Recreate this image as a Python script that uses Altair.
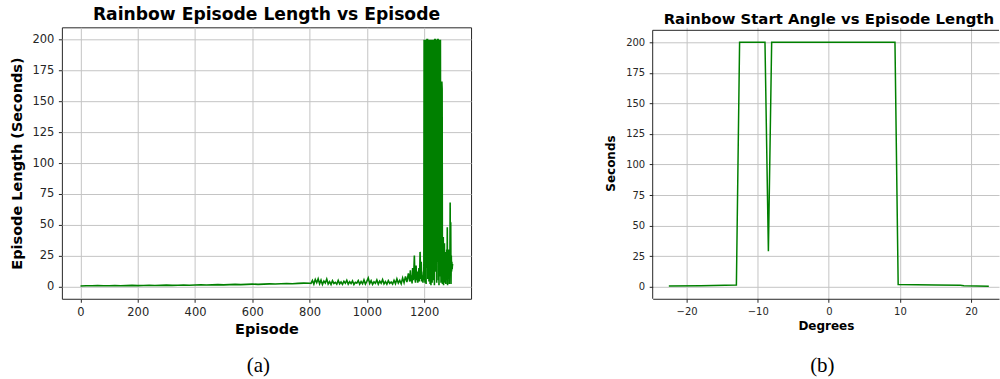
import altair as alt
import pandas as pd

# ---- Panel (a): episode length per training episode ----
# early training, every 20 episodes (0..800)
early_episodes = list(range(0, 801, 20))
early_lengths = [0.4, 0.6, 0.5, 0.7, 0.5, 0.6, 0.8, 0.6, 0.7, 0.9,
                 0.7, 0.8, 1.0, 0.8, 0.9, 1.1, 0.9, 1.0, 1.2, 1.0,
                 1.2, 1.4, 1.2, 1.3, 1.5, 1.3, 1.5, 1.7, 1.5, 1.7,
                 1.9, 1.7, 1.9, 2.1, 2.0, 2.2, 2.4, 2.2, 2.5, 2.7, 2.6]

# middle training, every 5 episodes (805..1150)
mid_episodes = list(range(805, 1151, 5))
mid_lengths = [2.5, 4.8, 1.9, 5.6, 3.0, 6.2, 2.2, 5.1, 1.6, 4.4,
               2.8, 6.0, 2.0, 3.9, 1.5, 4.6, 2.4, 3.3, 1.8, 4.9,
               2.1, 3.6, 1.7, 4.2, 2.6, 5.0, 1.9, 3.8, 2.3, 4.5,
               1.6, 3.4, 2.7, 4.8, 1.8, 3.9, 2.2, 5.3, 2.0, 4.1,
               6.8, 2.4, 4.6, 1.7, 3.8, 2.5, 5.2, 1.9, 4.3, 2.6,
               5.5, 2.1, 4.0, 1.8, 4.7, 2.4, 3.6, 1.9, 5.0, 2.3,
               6.1, 2.7, 4.9, 2.2, 6.8, 3.0, 8.2, 3.5, 10.5, 4.0]

# late training, every 2 episodes (1152..1198)
late_episodes = list(range(1152, 1199, 2))
late_lengths = [13, 4, 9, 2.5, 15, 5, 11, 25, 6, 3,
                17, 5, 12, 3, 8, 15, 4, 28, 6, 20,
                4, 9, 3, 12]

# final stretch, every episode (1199..1300)
final_episodes = list(range(1199, 1301))
final_lengths = [5, 200, 8, 200, 3, 200, 30, 200, 2, 200,
                 15, 200, 200, 200, 6, 200, 40, 200, 4, 200,
                 20, 200, 2, 200, 10, 1, 200, 25, 200, 3,
                 200, 45, 120, 5, 200, 8, 200, 1, 200, 200,
                 200, 12, 200, 35, 200, 3, 200, 20, 200, 200,
                 200, 5, 200, 1, 200, 30, 200, 8, 200, 40,
                 3, 20, 45, 166, 160, 2, 38, 10, 40, 1,
                 25, 12, 35, 3, 28, 15, 27, 2, 28, 10,
                 30, 5, 48, 1, 25, 8, 30, 12, 28, 2,
                 25, 10, 68, 20, 52, 2, 25, 12, 20, 14,
                 18, 17]

episodes = early_episodes + mid_episodes + late_episodes + final_episodes
lengths = early_lengths + mid_lengths + late_lengths + final_lengths

# ---- Panel (b): episode length by starting pole angle ----
degrees = [-22.5, -18.0, -13.0, -12.55, -8.98, -8.5, -8.04, 0.0, 9.3, 9.75, 15.0, 18.5, 19.0, 22.5]
seconds = [0.6, 0.9, 1.4, 200, 200, 29, 200, 200, 200, 1.9, 1.5, 1.2, 0.8, 0.5]

episode_ticks = [0, 200, 400, 600, 800, 1000, 1200]
length_ticks = [0, 25, 50, 75, 100, 125, 150, 175, 200]
degree_ticks = [-20, -10, 0, 10, 20]

green = "#008000"
grid = "#c4c4c4"
frame = "#262626"
font = "DejaVu Sans"

ep_df = pd.DataFrame({"Episode": episodes, "Length": lengths})
ang_df = pd.DataFrame({"Degrees": degrees, "Seconds": seconds})

W_A, H = 410, 272
W_B = 347

# ---------- panel (a) ----------
line_a = alt.Chart(ep_df).mark_line(color=green, strokeWidth=1.6, clip=True).encode(
    x=alt.X("Episode:Q",
            scale=alt.Scale(domain=[-65, 1364], nice=False, zero=False),
            axis=alt.Axis(values=episode_ticks, title="Episode", format="d",
                          labelFontSize=11.5, titleFontSize=14.5, titlePadding=4,
                          domain=False)),
    y=alt.Y("Length:Q",
            scale=alt.Scale(domain=[-10, 210], nice=False, zero=False),
            axis=alt.Axis(values=length_ticks, title="Episode Length (Seconds)",
                          labelFontSize=11.5, titleFontSize=14.5, titlePadding=8,
                          domain=False)),
)
cap_a = alt.Chart(pd.DataFrame({"t": ["(a)"]})).mark_text(
    font="Liberation Serif", fontSize=21, color="black", baseline="middle"
).encode(text="t:N", x=alt.value(197), y=alt.value(339))

panel_a = alt.layer(line_a, cap_a).properties(
    width=W_A, height=H,
    title=alt.TitleParams("Rainbow Episode Length vs Episode", fontSize=17.2,
                          font=font, fontWeight="bold", offset=4),
    view=alt.ViewBackground(stroke=frame, strokeWidth=1),
)

# ---------- panel (b) ----------
line_b = alt.Chart(ang_df).mark_line(color=green, strokeWidth=1.5, clip=True).encode(
    x=alt.X("Degrees:Q",
            scale=alt.Scale(domain=[-24.77, 23.93], nice=False, zero=False),
            axis=alt.Axis(values=degree_ticks, title="Degrees",
                          labelFontSize=10, titleFontSize=12, titlePadding=4)),
    y=alt.Y("Seconds:Q",
            scale=alt.Scale(domain=[-9.8, 212.2], nice=False, zero=False),
            axis=alt.Axis(values=length_ticks, title="Seconds",
                          labelFontSize=10, titleFontSize=12, titlePadding=8,
                          domain=False)),
)
one = pd.DataFrame({"t": ["(b)"]})
border_top = alt.Chart(one).mark_rule(color=frame, strokeWidth=1).encode(
    x=alt.value(0), x2=alt.value(W_B), y=alt.value(3))
border_left = alt.Chart(one).mark_rule(color=frame, strokeWidth=1).encode(
    x=alt.value(0), y=alt.value(3), y2=alt.value(H))
cap_b = alt.Chart(one).mark_text(
    font="Liberation Serif", fontSize=21, color="black", baseline="middle"
).encode(text="t:N", x=alt.value(170), y=alt.value(339))

panel_b = alt.layer(line_b, border_top, border_left, cap_b).properties(
    width=W_B, height=H,
    title=alt.TitleParams("Rainbow Start Angle vs Episode Length", fontSize=14.9,
                          font=font, fontWeight="bold", offset=0, dx=3),
    view=alt.ViewBackground(stroke="transparent"),
)

chart = alt.hconcat(panel_a, panel_b, spacing=182, bounds="flush").properties(
    padding={"left": 8, "top": 5, "right": 0, "bottom": 0},
    background="white",
).configure_axis(
    labelFont=font, titleFont=font, labelColor="#262626", titleColor="black",
    titleFontWeight="bold", gridColor=grid, gridWidth=1,
    tickColor=frame, tickSize=3.5, tickWidth=1, labelPadding=4.5,
    domainColor=frame, domainWidth=1,
).configure_title(anchor="middle", color="black")

chart.save("out.html", embed_options={"renderer": "svg", "actions": False})
